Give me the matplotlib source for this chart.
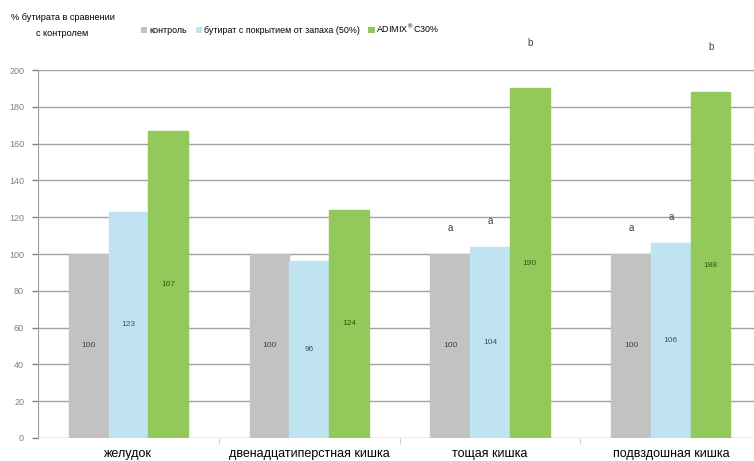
import numpy as np
import matplotlib.pyplot as plt
from matplotlib.patches import Patch

plt.rcParams['font.family'] = ['Liberation Sans', 'DejaVu Sans']

# Данные
categories = ["желудок", "двенадцатиперстная кишка", "тощая кишка", "подвздошная кишка"]
series_names = ["контроль", "бутират с покрытием от запаха (50%)", "ADIMIX$^{®}$C30%"]
control = [100, 100, 100, 100]
coated = [123, 96, 104, 106]
adimix = [167, 124, 190, 188]
letters_control = ["", "", "a", "a"]
letters_coated = ["", "", "a", "a"]
letters_adimix = ["", "", "b", "b"]

colors = ["#c2c2c2", "#bfe3f0", "#92c95a"]
text_colors = ["#404040", "#2a5a78", "#2f5a10"]

fig = plt.figure(figsize=(7.54, 4.61), dpi=100)
ax = fig.add_axes([0.0504, 0.05, 0.9496, 0.798])

x = np.arange(len(categories))
w = 0.22
all_series = [control, coated, adimix]
all_letters = [letters_control, letters_coated, letters_adimix]
for i, (vals, lets) in enumerate(zip(all_series, all_letters)):
    xs = x + (i - 1) * w
    bars = ax.bar(xs, vals, width=w, color=colors[i], edgecolor=colors[i], zorder=3)
    for b, v, let in zip(bars, vals, lets):
        ax.text(b.get_x() + b.get_width() / 2, v / 2, str(v), ha='center', va='center',
                fontsize=6, color=text_colors[i], zorder=4)
        if let:
            off = 29 if let == "b" else 15
            ax.annotate(let, (b.get_x() + b.get_width() / 2, v), xytext=(0, off),
                        textcoords='offset points', ha='center', va='bottom',
                        fontsize=7, color='#404040', annotation_clip=False)

ax.set_xlim(-0.5, 3.46)
ax.set_ylim(0, 200)
ax.set_yticks(np.arange(0, 201, 20))
ax.yaxis.grid(True, color='#a0a0a0', lw=1, zorder=0)
ax.tick_params(axis='y', labelsize=6.5, colors='#808080', length=4, width=1, pad=6)
ax.set_xticks(x)
ax.set_xticklabels(categories, fontsize=9)
ax.tick_params(axis='x', length=0, pad=7)
ax.set_xticks(np.arange(0.5, 3.5, 1), minor=True)
ax.tick_params(axis='x', which='minor', length=4, color='#c8c8c8')
for s in ['top', 'right', 'bottom']:
    ax.spines[s].set_visible(False)
ax.spines['left'].set_color('#a0a0a0')

fig.text(0.083, 0.963, "% бутирата в сравнении", ha='center', va='center', fontsize=6.6)
fig.text(0.083, 0.927, "с контролем", ha='center', va='center', fontsize=6.6)

handles = [Patch(facecolor=c, edgecolor='none') for c in colors]
fig.legend(handles, series_names, loc='center', bbox_to_anchor=(0.385, 0.937), ncol=3,
           frameon=False, fontsize=6.4, handlelength=0.7, handleheight=0.7,
           handletextpad=0.2, columnspacing=1.0)

fig.savefig("out.png", dpi=100)
